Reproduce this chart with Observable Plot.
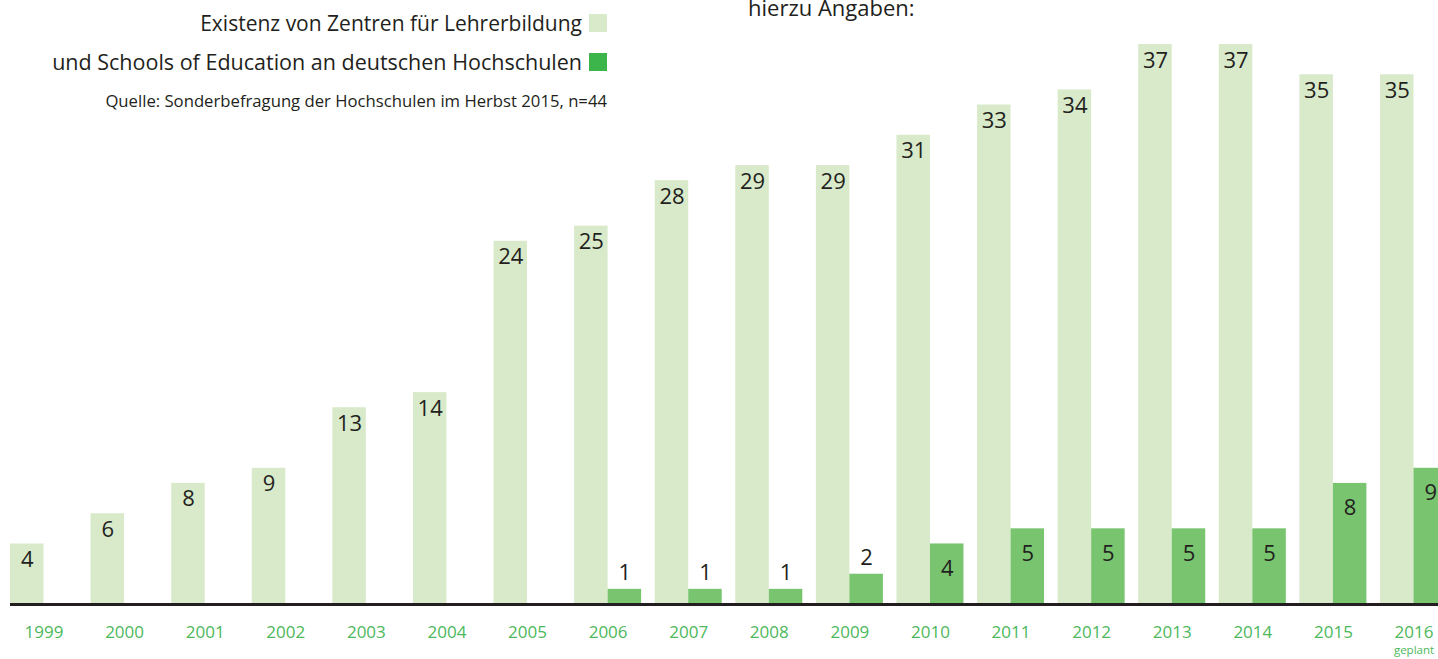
<!DOCTYPE html>
<html>
<head>
<meta charset="utf-8">
<script src="https://cdn.jsdelivr.net/npm/d3@7"></script>
<script src="https://cdn.jsdelivr.net/npm/@observablehq/plot@0.6"></script>
<style>
  html, body { margin: 0; padding: 0; background: #fff; overflow: hidden; }
  #wrap { position: relative; width: 1438px; height: 659px; overflow: hidden; font-family: "Open Sans", sans-serif; }
  #chart svg { max-width: none !important; position: absolute; left: 0; top: 0; }
  #overlay { position: absolute; left: 0; top: 0; }
</style>
</head>
<body>
<div id="wrap">
  <div id="chart"></div>
  <svg id="overlay" width="1438" height="130"></svg>
</div>
<script>
const years = ["1999","2000","2001","2002","2003","2004","2005","2006","2007","2008","2009","2010","2011","2012","2013","2014","2015","2016"];
const zentren = [4,6,8,9,13,14,24,25,28,29,29,31,33,34,37,37,35,35];
const schools = [0,0,0,0,0,0,0,1,1,1,2,4,5,5,5,5,8,9];
const legendLabels = ["Existenz von Zentren für Lehrerbildung", "und Schools of Education an deutschen Hochschulen"];
const sourceText = "Quelle: Sonderbefragung der Hochschulen im Herbst 2015, n=44";
const headText = "hierzu Angaben:";
const noteText = "geplant";

const lightColor = "#d9eacb";
const darkColor = "#78c46f";
const legendDark = "#3cb54a";
const textColor = "#231f20";
const yearColor = "#4cb85b";

const light = years.map((y, i) => ({year: y, value: zentren[i]}));
const dark = years.map((y, i) => ({year: y, value: schools[i]})).filter(d => d.value > 0);

const W = 1447, H = 659, mL = 10, mR = 0;
const pInner = 0.1685;
const step = (W - mL - mR) / (years.length - pInner);
const bw = step * (1 - pInner);
const half = bw / 2;

const chart = Plot.plot({
  width: W,
  height: H,
  marginLeft: mL,
  marginRight: mR,
  marginTop: 44,
  marginBottom: 55,
  style: {fontFamily: "Open Sans, sans-serif", fontSize: "17px", color: yearColor, background: "transparent"},
  x: {domain: years, paddingInner: pInner, paddingOuter: 0, round: false, tickSize: 0, tickPadding: 21, label: null},
  y: {domain: [0, 37], axis: null},
  marks: [
    Plot.barY(light, {x: "year", y: "value", fill: lightColor, insetRight: half}),
    Plot.barY(dark, {x: "year", y: "value", fill: darkColor, insetLeft: half}),
    Plot.ruleY([0], {stroke: textColor, strokeWidth: 3}),
    Plot.text(light, {x: "year", y: "value", text: d => String(d.value), dx: -half / 2, dy: 16, fontSize: 22, fill: textColor}),
    Plot.text(dark.filter(d => d.value <= 2), {x: "year", y: "value", text: d => String(d.value), dx: half / 2, dy: -16, fontSize: 22, fill: textColor}),
    Plot.text(dark.filter(d => d.value > 2), {x: "year", y: "value", text: d => String(d.value), dx: half / 2, dy: 25, fontSize: 22, fill: textColor}),
    Plot.text([{year: "2016"}], {x: "year", y: () => 0, text: () => noteText, dy: 46, fontSize: 11.5, fill: yearColor})
  ]
});
document.getElementById("chart").appendChild(chart);

const ov = d3.select("#overlay");
ov.append("text").attr("x", 748).attr("y", 16).attr("font-size", 22).attr("fill", textColor).text(headText);
ov.append("text").attr("x", 582).attr("y", 31).attr("text-anchor", "end").attr("font-size", 21).attr("fill", textColor).text(legendLabels[0]);
ov.append("rect").attr("x", 589).attr("y", 14).attr("width", 18).attr("height", 18).attr("fill", lightColor);
ov.append("text").attr("x", 582).attr("y", 70).attr("text-anchor", "end").attr("font-size", 21.5).attr("fill", textColor).text(legendLabels[1]);
ov.append("rect").attr("x", 589).attr("y", 53).attr("width", 18).attr("height", 18).attr("fill", legendDark);
ov.append("text").attr("x", 607).attr("y", 107).attr("text-anchor", "end").attr("font-size", 16.7).attr("fill", textColor).text(sourceText);
</script>
</body>
</html>
